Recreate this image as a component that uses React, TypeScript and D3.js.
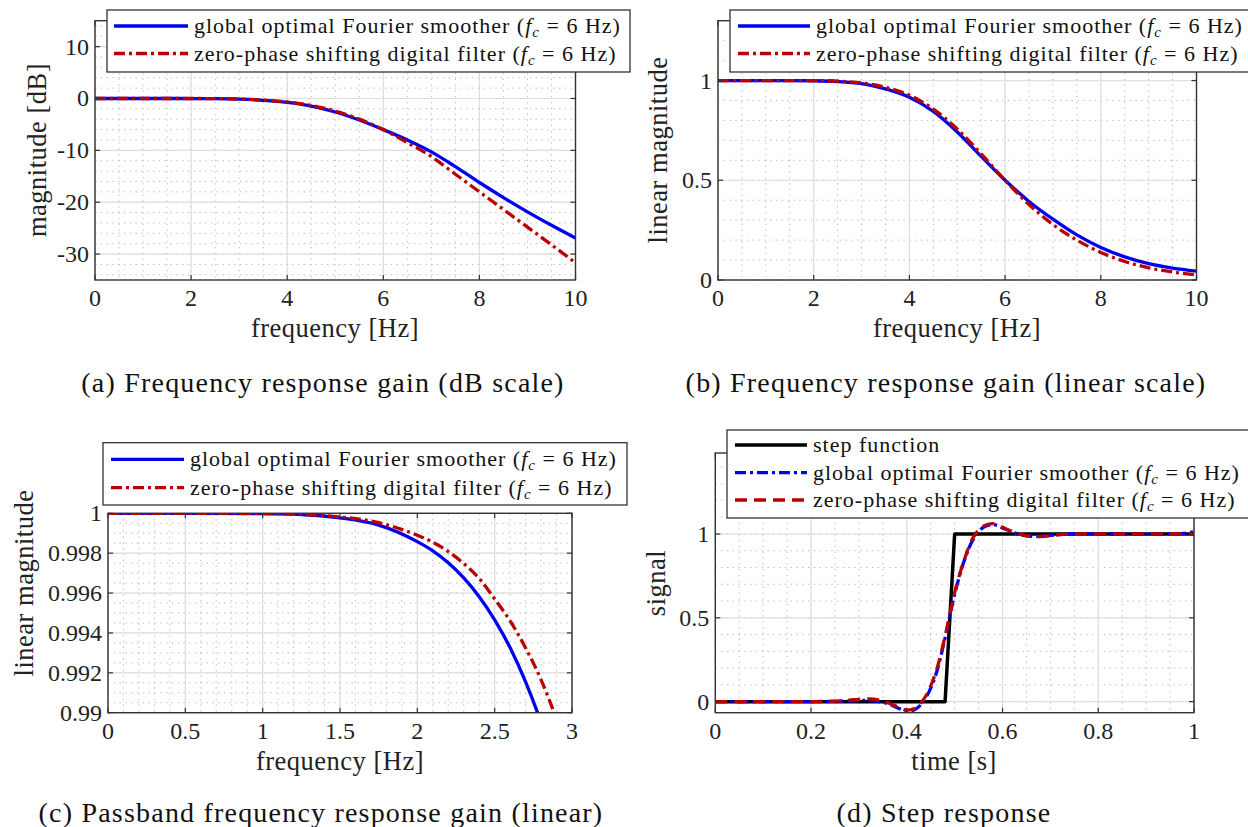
import React from 'react';
import * as d3 from 'd3';

const FONT = 'Liberation Serif, DejaVu Serif, serif';
const BLUE = '#0000f0';
const RED = '#bb0000';
const BLACK = '#000000';

// ---------- data ----------
// (a) & (b): frequency grid [Hz]
const AB_FREQ = [0, 0.5, 1, 1.5, 2, 2.5, 3, 3.5, 4, 4.5, 5, 5.5, 6, 6.5, 7, 7.5, 8, 8.5, 9, 9.5, 10];
// (a) magnitude in dB
const A_FOURIER_DB = [0, 0, 0, 0, -0.01, -0.04, -0.14, -0.37, -0.76, -1.46, -2.6, -4.15, -6.0, -8.0, -10.3, -13.15, -16.2, -19.1, -21.85, -24.45, -26.9];
const A_FILTER_DB = [0, 0, 0, 0, 0, -0.03, -0.1, -0.3, -0.67, -1.34, -2.42, -3.98, -6.0, -8.5, -11.2, -14.6, -18.0, -21.4, -24.8, -28.2, -31.7];
// (b) linear magnitude
const B_FOURIER = [1.0, 1.0, 1.0, 1.0, 0.999, 0.995, 0.984, 0.958, 0.916, 0.845, 0.742, 0.62, 0.5, 0.394, 0.305, 0.226, 0.163, 0.116, 0.082, 0.06, 0.045];
const B_FILTER = [1.0, 1.0, 1.0, 1.0, 1.0, 0.997, 0.988, 0.966, 0.926, 0.857, 0.757, 0.632, 0.5, 0.378, 0.278, 0.2, 0.138, 0.093, 0.061, 0.04, 0.025];
// (c) passband
const C_FREQ = [0, 0.5, 1.0, 1.25, 1.5, 1.75, 2.0, 2.1, 2.2, 2.3, 2.4, 2.5, 2.6, 2.7, 2.8, 2.9, 3.0];
const C_FOURIER = [1.0, 1.0, 0.99998, 0.99994, 0.99977, 0.99941, 0.99858, 0.99812, 0.99752, 0.99676, 0.99582, 0.99466, 0.99326, 0.99155, 0.9895, 0.987, 0.9842];
const C_FILTER = [1.0, 1.0, 0.99999, 0.99995, 0.99982, 0.99953, 0.9989, 0.99855, 0.99808, 0.99748, 0.99673, 0.9957, 0.9946, 0.99325, 0.99165, 0.98965, 0.9872];
// (d) step response, time [s]
const D_TIME = [0, 0.02, 0.04, 0.06, 0.08, 0.1, 0.12, 0.14, 0.16, 0.18, 0.2, 0.22, 0.24, 0.26, 0.28, 0.3, 0.32, 0.34, 0.36, 0.38, 0.4, 0.42, 0.44, 0.46, 0.48, 0.5, 0.52, 0.54, 0.56, 0.58, 0.6, 0.62, 0.64, 0.66, 0.68, 0.7, 0.72, 0.74, 0.76, 0.78, 0.8, 0.82, 0.84, 0.86, 0.88, 0.9, 0.92, 0.94, 0.96, 0.98, 1.0];
const D_STEP = [0, 0, 0, 0, 0, 0, 0, 0, 0, 0, 0, 0, 0, 0, 0, 0, 0, 0, 0, 0, 0, 0, 0, 0, 0, 1, 1, 1, 1, 1, 1, 1, 1, 1, 1, 1, 1, 1, 1, 1, 1, 1, 1, 1, 1, 1, 1, 1, 1, 1, 1];
const D_FOURIER = [0, 0, 0, 0, 0, 0, 0, 0, 0, 0, 0, 0, 0.001, 0.002, 0.004, 0.007, 0.007, 0.001, -0.012, -0.036, -0.058, -0.042, 0.025, 0.155, 0.38, 0.64, 0.84, 0.975, 1.04, 1.056, 1.036, 1.012, 0.994, 0.986, 0.987, 0.992, 0.997, 1.0, 1.001, 1.001, 1.0, 1.0, 1.0, 1.0, 1.0, 1.0, 1.0, 1.0, 1.001, 1.004, 1.013];
const D_FILTER = [0, 0, 0, 0, 0, 0, 0, 0, 0, 0, 0, 0.001, 0.002, 0.005, 0.009, 0.014, 0.016, 0.01, -0.006, -0.03, -0.05, -0.035, 0.035, 0.17, 0.39, 0.65, 0.845, 0.985, 1.046, 1.062, 1.04, 1.015, 0.996, 0.986, 0.985, 0.99, 0.996, 0.999, 1.0, 1.0, 1.0, 1.0, 1.0, 1.0, 1.0, 1.0, 1.0, 1.0, 1.0, 1.0, 1.0];

// tick labels
const AB_XTICKS = [0, 2, 4, 6, 8, 10];
const A_YTICKS = [-30, -20, -10, 0, 10];
const B_YTICKS = [0, 0.5, 1];
const C_XTICKS = [0, 0.5, 1, 1.5, 2, 2.5, 3];
const C_YTICKS = [0.99, 0.992, 0.994, 0.996, 0.998, 1];
const C_YLABELS = ['0.99', '0.992', '0.994', '0.996', '0.998', '1'];
const D_XTICKS = [0, 0.2, 0.4, 0.6, 0.8, 1];
const D_YTICKS = [0, 0.5, 1];

const FOURIER_LABEL = 'global optimal Fourier smoother';
const FILTER_LABEL = 'zero-phase shifting digital filter';
const STEP_LABEL = 'step function';

const DASHDOT = '11,4,3,4';
const DASHED = '12,7';

type Series = { x: number[]; y: number[]; color: string; dash?: string; width: number; curve: any };
type LegendRow = { label: string; math: boolean; color: string; dash?: string };
type PanelCfg = {
  id: string;
  x0: number; x1: number; yTop: number; yBot: number;
  xDomain: [number, number]; yDomain: [number, number];
  xTicks: number[]; yTicks: number[]; xTickLabels?: string[]; yTickLabels?: string[];
  xMinor: number[]; yMinor: number[];
  series: Series[];
  legend: { x: number; y: number; w: number; h: number; rowY: number[]; sx0: number; sx1: number; tx: number; rows: LegendRow[] };
  xLabel: { text: string; x: number; y: number };
  yLabel: { text: string; x: number; y: number };
  caption: { text: string; x: number; y: number };
};

const rng = (a: number, b: number, s: number) => {
  const out: number[] = [];
  const n = Math.round((b - a) / s);
  for (let i = 0; i <= n; i++) out.push(+(a + i * s).toFixed(6));
  return out;
};

function Panel({ cfg }: { cfg: PanelCfg }) {
  const xs = d3.scaleLinear().domain(cfg.xDomain).range([cfg.x0, cfg.x1]);
  const ys = d3.scaleLinear().domain(cfg.yDomain).range([cfg.yBot, cfg.yTop]);
  const fmt = (v: number) => String(+v.toFixed(4));
  const tick = 5;
  const L = cfg.legend;
  return (
    <g>
      <defs>
        <clipPath id={`clip-${cfg.id}`}>
          <rect x={cfg.x0} y={cfg.yTop} width={cfg.x1 - cfg.x0} height={cfg.yBot - cfg.yTop} />
        </clipPath>
      </defs>
      <rect x={cfg.x0} y={cfg.yTop} width={cfg.x1 - cfg.x0} height={cfg.yBot - cfg.yTop} fill="#fff" />
      {cfg.xMinor.map((v, i) => (
        <line key={`xm${i}`} x1={xs(v)} x2={xs(v)} y1={cfg.yTop} y2={cfg.yBot} stroke="#b8b8b8" strokeWidth={1} strokeDasharray="1.3,4.5" />
      ))}
      {cfg.yMinor.map((v, i) => (
        <line key={`ym${i}`} y1={ys(v)} y2={ys(v)} x1={cfg.x0} x2={cfg.x1} stroke="#b8b8b8" strokeWidth={1} strokeDasharray="1.3,4.5" />
      ))}
      {cfg.xTicks.map((v, i) => (
        <line key={`xg${i}`} x1={xs(v)} x2={xs(v)} y1={cfg.yTop} y2={cfg.yBot} stroke="#dedede" strokeWidth={1.2} />
      ))}
      {cfg.yTicks.map((v, i) => (
        <line key={`yg${i}`} y1={ys(v)} y2={ys(v)} x1={cfg.x0} x2={cfg.x1} stroke="#dedede" strokeWidth={1.2} />
      ))}
      <g clipPath={`url(#clip-${cfg.id})`}>
        {cfg.series.map((s, i) => {
          const line = d3.line<number>().x((_, j) => xs(s.x[j])).y((d) => ys(d)).curve(s.curve);
          return (
            <path key={`s${i}`} d={line(s.y) || ''} fill="none" stroke={s.color} strokeWidth={s.width} strokeDasharray={s.dash} strokeLinejoin="round" />
          );
        })}
      </g>
      <rect x={cfg.x0} y={cfg.yTop} width={cfg.x1 - cfg.x0} height={cfg.yBot - cfg.yTop} fill="none" stroke="#333" strokeWidth={1.4} />
      {cfg.xTicks.map((v, i) => (
        <g key={`xt${i}`}>
          <line x1={xs(v)} x2={xs(v)} y1={cfg.yBot} y2={cfg.yBot - tick} stroke="#333" strokeWidth={1.2} />
          <line x1={xs(v)} x2={xs(v)} y1={cfg.yTop} y2={cfg.yTop + tick} stroke="#333" strokeWidth={1.2} />
          <text x={xs(v)} y={cfg.yBot + 26} fontFamily={FONT} fontSize={24} textAnchor="middle" fill="#222">
            {cfg.xTickLabels ? cfg.xTickLabels[i] : fmt(v)}
          </text>
        </g>
      ))}
      {cfg.yTicks.map((v, i) => (
        <g key={`yt${i}`}>
          <line y1={ys(v)} y2={ys(v)} x1={cfg.x0} x2={cfg.x0 + tick} stroke="#333" strokeWidth={1.2} />
          <line y1={ys(v)} y2={ys(v)} x1={cfg.x1} x2={cfg.x1 - tick} stroke="#333" strokeWidth={1.2} />
          <text x={cfg.x0 - 6} y={ys(v) + 8} fontFamily={FONT} fontSize={24} textAnchor="end" fill="#222">
            {cfg.yTickLabels ? cfg.yTickLabels[i] : fmt(v)}
          </text>
        </g>
      ))}
      <text x={cfg.xLabel.x} y={cfg.xLabel.y} fontFamily={FONT} fontSize={26.5} textAnchor="middle" fill="#222" letterSpacing={0.5}>
        {cfg.xLabel.text}
      </text>
      <text transform={`translate(${cfg.yLabel.x},${cfg.yLabel.y}) rotate(-90)`} fontFamily={FONT} fontSize={26.5} textAnchor="middle" fill="#222" letterSpacing={0.5}>
        {cfg.yLabel.text}
      </text>
      <rect x={L.x} y={L.y} width={L.w} height={L.h} fill="#fff" stroke="#333" strokeWidth={1.3} />
      {L.rows.map((r, i) => (
        <g key={`lg${i}`}>
          <line x1={L.sx0} x2={L.sx1} y1={L.rowY[i]} y2={L.rowY[i]} stroke={r.color} strokeWidth={3.3} strokeDasharray={r.dash} />
          <text x={L.tx} y={L.rowY[i] + 7} fontFamily={FONT} fontSize={22} fill="#111" letterSpacing={1}>
            {r.label}
            {r.math ? (
              <>
                <tspan> (</tspan>
                <tspan fontStyle="italic">f</tspan>
                <tspan fontStyle="italic" fontSize={15} dy={4}>c</tspan>
                <tspan dy={-4}> = 6 Hz)</tspan>
              </>
            ) : null}
          </text>
        </g>
      ))}
      <text x={cfg.caption.x} y={cfg.caption.y} fontFamily={FONT} fontSize={28} textAnchor="middle" fill="#111" letterSpacing={1.2}>
        {cfg.caption.text}
      </text>
    </g>
  );
}

export default function App() {
  const mono = d3.curveMonotoneX;
  const smooth = d3.curveCatmullRom.alpha(0.5);
  const panels: PanelCfg[] = [
    {
      id: 'a', x0: 95, x1: 575.5, yTop: 20.7, yBot: 280,
      xDomain: [0, 10], yDomain: [-35, 15],
      xTicks: AB_XTICKS, yTicks: A_YTICKS,
      xMinor: rng(0, 10, 0.5), yMinor: rng(-34, 14, 2),
      series: [
        { x: AB_FREQ, y: A_FOURIER_DB, color: BLUE, width: 3.3, curve: mono },
        { x: AB_FREQ, y: A_FILTER_DB, color: RED, dash: DASHDOT, width: 3.3, curve: mono },
      ],
      legend: {
        x: 107, y: 10, w: 523, h: 62, rowY: [26, 53.5], sx0: 114, sx1: 188, tx: 194,
        rows: [
          { label: FOURIER_LABEL, math: true, color: BLUE },
          { label: FILTER_LABEL, math: true, color: RED, dash: DASHDOT },
        ],
      },
      xLabel: { text: 'frequency [Hz]', x: 335, y: 337 },
      yLabel: { text: 'magnitude [dB]', x: 46, y: 150 },
      caption: { text: '(a) Frequency response gain (dB scale)', x: 323, y: 392 },
    },
    {
      id: 'b', x0: 718, x1: 1196.5, yTop: 20.7, yBot: 280,
      xDomain: [0, 10], yDomain: [0, 1.3],
      xTicks: AB_XTICKS, yTicks: B_YTICKS,
      xMinor: rng(0, 10, 0.5), yMinor: rng(0, 1.3, 0.1),
      series: [
        { x: AB_FREQ, y: B_FOURIER, color: BLUE, width: 3.3, curve: mono },
        { x: AB_FREQ, y: B_FILTER, color: RED, dash: DASHDOT, width: 3.3, curve: mono },
      ],
      legend: {
        x: 730, y: 10, w: 540, h: 62, rowY: [26, 53.5], sx0: 738, sx1: 810, tx: 816,
        rows: [
          { label: FOURIER_LABEL, math: true, color: BLUE },
          { label: FILTER_LABEL, math: true, color: RED, dash: DASHDOT },
        ],
      },
      xLabel: { text: 'frequency [Hz]', x: 957, y: 337 },
      yLabel: { text: 'linear magnitude', x: 667, y: 150 },
      caption: { text: '(b) Frequency response gain (linear scale)', x: 946, y: 392 },
    },
    {
      id: 'c', x0: 108, x1: 572, yTop: 513.3, yBot: 712.7,
      xDomain: [0, 3], yDomain: [0.99, 1],
      xTicks: C_XTICKS, yTicks: C_YTICKS, yTickLabels: C_YLABELS,
      xMinor: rng(0, 3, 0.1), yMinor: rng(0.99, 1, 0.0005),
      series: [
        { x: C_FREQ, y: C_FOURIER, color: BLUE, width: 3.3, curve: mono },
        { x: C_FREQ, y: C_FILTER, color: RED, dash: DASHDOT, width: 3.3, curve: mono },
      ],
      legend: {
        x: 103, y: 442.7, w: 524, h: 62.3, rowY: [459.3, 487.7], sx0: 111, sx1: 184, tx: 190,
        rows: [
          { label: FOURIER_LABEL, math: true, color: BLUE },
          { label: FILTER_LABEL, math: true, color: RED, dash: DASHDOT },
        ],
      },
      xLabel: { text: 'frequency [Hz]', x: 340, y: 770 },
      yLabel: { text: 'linear magnitude', x: 33, y: 583 },
      caption: { text: '(c) Passband frequency response gain (linear)', x: 321, y: 822 },
    },
    {
      id: 'd', x0: 715.3, x1: 1194, yTop: 453, yBot: 712.7,
      xDomain: [0, 1], yDomain: [-0.066, 1.483],
      xTicks: D_XTICKS, yTicks: D_YTICKS,
      xMinor: rng(0, 1, 0.05), yMinor: rng(0, 1.4, 0.1),
      series: [
        { x: D_TIME, y: D_STEP, color: BLACK, width: 3.5, curve: d3.curveLinear },
        { x: D_TIME, y: D_FOURIER, color: BLUE, dash: DASHDOT, width: 3.3, curve: smooth },
        { x: D_TIME, y: D_FILTER, color: RED, dash: DASHED, width: 3.3, curve: smooth },
      ],
      legend: {
        x: 727, y: 430, w: 540, h: 88, rowY: [445, 472.7, 500], sx0: 735, sx1: 807, tx: 813,
        rows: [
          { label: STEP_LABEL, math: false, color: BLACK },
          { label: FOURIER_LABEL, math: true, color: BLUE, dash: DASHDOT },
          { label: FILTER_LABEL, math: true, color: RED, dash: DASHED },
        ],
      },
      xLabel: { text: 'time [s]', x: 954, y: 770 },
      yLabel: { text: 'signal', x: 665, y: 583 },
      caption: { text: '(d) Step response', x: 944, y: 822 },
    },
  ];
  return (
    <svg
      width={1248}
      height={827}
      viewBox="0 0 1248 827"
      fontFamily={FONT}
      style={{ position: 'absolute', left: 0, top: 0, background: '#fff' }}
    >
      <rect x={0} y={0} width={1248} height={827} fill="#fff" />
      {panels.map((p) => (
        <Panel key={p.id} cfg={p} />
      ))}
    </svg>
  );
}
